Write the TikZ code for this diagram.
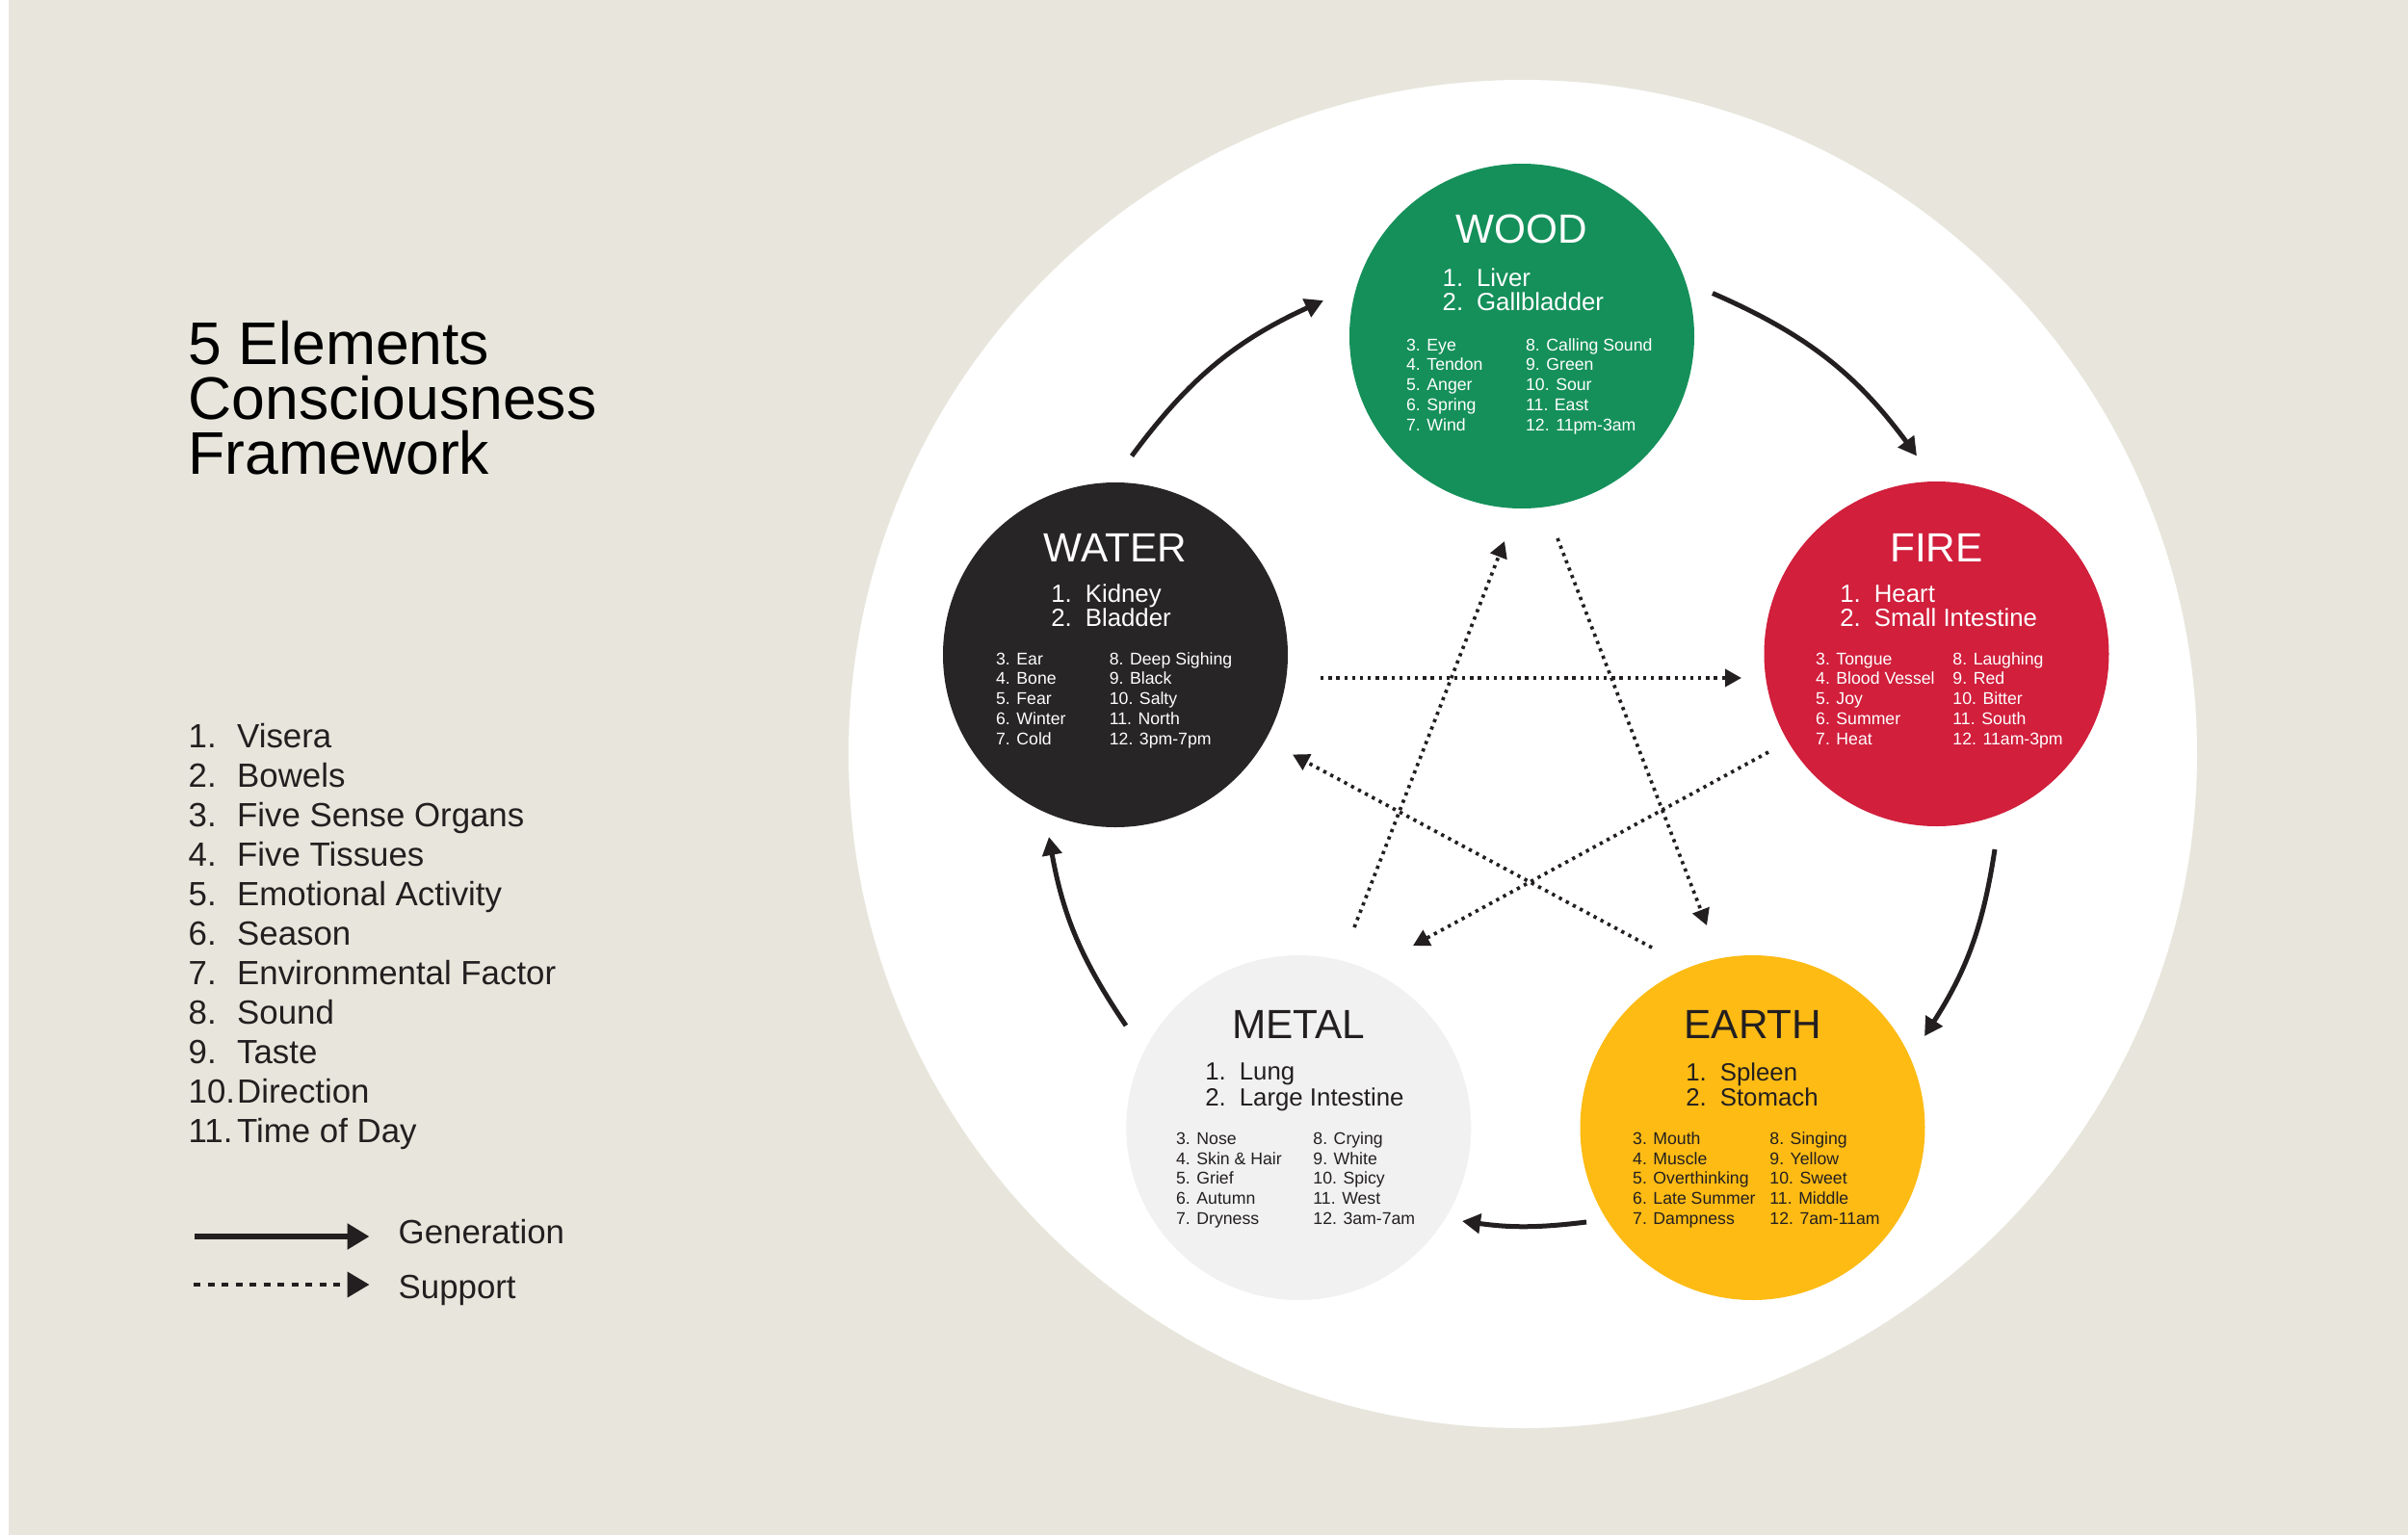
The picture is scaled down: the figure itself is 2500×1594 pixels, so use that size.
\documentclass[tikz,border=0pt]{standalone}
\usepackage{fontspec}
\setmainfont{Liberation Sans}
\usetikzlibrary{arrows.meta}
\definecolor{bg}{HTML}{E8E6DC}
\definecolor{woodc}{HTML}{15905A}
\definecolor{waterc}{HTML}{272526}
\definecolor{firec}{HTML}{D11F3C}
\definecolor{metalc}{HTML}{F1F1F1}
\definecolor{earthc}{HTML}{FDBB14}
\definecolor{ink}{HTML}{231F20}
\newcommand\orgnum[1]{\makebox[10.65pt][l]{#1}}
\begin{document}
\begin{tikzpicture}[x=0.3pt,y=-0.3pt,
 elem/.style={circle,inner sep=0,minimum size=107.4pt},
 txt/.style={inner sep=0,anchor=base west},
 ctxt/.style={inner sep=0,anchor=base},
 ttl/.style={txt,text=black,font=\fontsize{18.75pt}{17pt}\selectfont},
 leg/.style={txt,text=ink,font=\fontsize{10.45pt}{12pt}\selectfont},
 etitle/.style={ctxt,font=\fontsize{12.7pt}{13pt}\selectfont},
 organ/.style={txt,font=\fontsize{7.74pt}{8pt}\selectfont},
 small/.style={txt,font=\fontsize{5.3pt}{6pt}\selectfont},
 gen/.style={draw=ink,line width=1.5pt,-{Triangle[length=5.7pt,width=6pt]}},
 sup/.style={draw=ink,line width=1.1pt,dash pattern=on 1pt off 1.45pt,-{Triangle[length=5.1pt,width=5.4pt]}},
 lgen/.style={draw=ink,line width=1.7pt,-{Triangle[length=6.9pt,width=7.8pt]}},
 lsup/.style={draw=ink,line width=1.35pt,dash pattern=on 2.1pt off 2.25pt,-{Triangle[length=6.9pt,width=7.8pt]}},
]
\useasboundingbox (0,0) rectangle (2500,1594);
\fill[white] (0,0) rectangle (2500,1594);
\fill[bg] (9,0) rectangle (2500,1594);

% title
\node[ttl] (t1) at (195,378) {5 Elements};
\node[ttl] (t2) at (195,435) {Consciousness};
\node[ttl] (t3) at (195,492.5) {Framework};

% legend list
\foreach \t [count=\i] in {Visera,Bowels,Five Sense Organs,Five Tissues,Emotional Activity,Season,Environmental Factor,Sound,Taste,Direction,Time of Day}{
  \node[leg] (ln\i) at (195,{776+41*(\i-1)}) {\i.};
  \node[leg] (lt\i) at (245.5,{776+41*(\i-1)}) {\t};
}
\coordinate (lga) at (202,1284);
\coordinate (lgb) at (383.5,1284);
\draw[lgen] (lga) -- (lgb);
\coordinate (lsa) at (201,1334);
\coordinate (lsb) at (383.5,1334);
\draw[lsup] (lsa) -- (lsb);
\node[leg] (lgentxt) at (413,1291.5) {Generation};
\node[leg] (lsuptxt) at (413,1348) {Support};

% big circle
\node[circle,fill=white,inner sep=0,minimum size=420pt] (big) at (1581,783) {};

% element circles
\node[elem,fill=woodc] (wood) at (1580,349) {};
\node[elem,fill=waterc] (water) at (1158,680) {};
\node[elem,fill=firec] (fire) at (2010.5,679) {};
\node[elem,fill=metalc] (metal) at (1348.3,1171) {};
\node[elem,fill=earthc] (earth) at (1819.5,1171) {};

% WOOD
\begin{scope}[every node/.append style={text=white}]
\node[etitle] (woodT) at (1580,252.7) {WOOD};
\node[organ] (wood1) at (1497,297) {\orgnum{1.}Liver};
\node[organ] (wood2) at (1497,322) {\orgnum{2.}Gallbladder};
\foreach \t [count=\i] in {3. Eye,4. Tendon,5. Anger,6. Spring,7. Wind}
  \node[small] (woodL\i) at (1459.5,{364+20.8*(\i-1)}) {\t};
\foreach \t [count=\i] in {8. Calling Sound,9. Green,10. Sour,11. East,12. 11pm-3am}
  \node[small] (woodR\i) at (1583.5,{364+20.8*(\i-1)}) {\t};
\end{scope}

% WATER
\begin{scope}[every node/.append style={text=white}]
\node[etitle] (waterT) at (1158,583.3) {WATER};
\node[organ] (water1) at (1090.7,625) {\orgnum{1.}Kidney};
\node[organ] (water2) at (1090.7,650) {\orgnum{2.}Bladder};
\foreach \t [count=\i] in {3. Ear,4. Bone,5. Fear,6. Winter,7. Cold}
  \node[small] (waterL\i) at (1033.5,{690+20.8*(\i-1)}) {\t};
\foreach \t [count=\i] in {8. Deep Sighing,9. Black,10. Salty,11. North,12. 3pm-7pm}
  \node[small] (waterR\i) at (1151.2,{690+20.8*(\i-1)}) {\t};
\end{scope}

% FIRE
\begin{scope}[every node/.append style={text=white}]
\node[etitle] (fireT) at (2010.5,583.3) {FIRE};
\node[organ] (fire1) at (1909.7,625) {\orgnum{1.}Heart};
\node[organ] (fire2) at (1909.7,650) {\orgnum{2.}Small Intestine};
\foreach \t [count=\i] in {3. Tongue,4. Blood Vessel,5. Joy,6. Summer,7. Heat}
  \node[small] (fireL\i) at (1884.5,{690+20.8*(\i-1)}) {\t};
\foreach \t [count=\i] in {8. Laughing,9. Red,10. Bitter,11. South,12. 11am-3pm}
  \node[small] (fireR\i) at (2026.8,{690+20.8*(\i-1)}) {\t};
\end{scope}

% METAL
\begin{scope}[every node/.append style={text=ink}]
\node[etitle] (metalT) at (1348.3,1078.3) {METAL};
\node[organ] (metal1) at (1250.7,1121.7) {\orgnum{1.}Lung};
\node[organ] (metal2) at (1250.7,1148.3) {\orgnum{2.}Large Intestine};
\foreach \t [count=\i] in {3. Nose,4. Skin \& Hair,5. Grief,6. Autumn,7. Dryness}
  \node[small] (metalL\i) at (1220.5,{1188.3+20.8*(\i-1)}) {\t};
\foreach \t [count=\i] in {8. Crying,9. White,10. Spicy,11. West,12. 3am-7am}
  \node[small] (metalR\i) at (1362.8,{1188.3+20.8*(\i-1)}) {\t};
\end{scope}

% EARTH
\begin{scope}[every node/.append style={text=ink}]
\node[etitle] (earthT) at (1820,1078.3) {EARTH};
\node[organ] (earth1) at (1749.7,1122.7) {\orgnum{1.}Spleen};
\node[organ] (earth2) at (1749.7,1148.3) {\orgnum{2.}Stomach};
\foreach \t [count=\i] in {3. Mouth,4. Muscle,5. Overthinking,6. Late Summer,7. Dampness}
  \node[small] (earthL\i) at (1694.5,{1188.3+20.8*(\i-1)}) {\t};
\foreach \t [count=\i] in {8. Singing,9. Yellow,10. Sweet,11. Middle,12. 7am-11am}
  \node[small] (earthR\i) at (1836.8,{1188.3+20.8*(\i-1)}) {\t};
\end{scope}

% generation arcs
\coordinate (g1a) at (1175,473.5);  \coordinate (g1b) at (1374,312);
\coordinate (g2a) at (1778,304.5);  \coordinate (g2b) at (1990,473.5);
\coordinate (g3a) at (2071,882);    \coordinate (g3b) at (1998,1076);
\coordinate (g4a) at (1647,1269);   \coordinate (g4b) at (1518,1268);
\coordinate (g5a) at (1169,1065);   \coordinate (g5b) at (1089,869);
\draw[gen] (g1a) to[bend left=14.5] (g1b);
\draw[gen] (g2a) to[bend left=15] (g2b);
\draw[gen] (g3a) to[bend left=12] (g3b);
\draw[gen] (g4a) to[bend left=7.5] (g4b);
\draw[gen] (g5a) to[bend left=12] (g5b);

% support lines
\coordinate (s1a) at (1371,704);   \coordinate (s1b) at (1808,704);
\coordinate (s2a) at (1836,781);   \coordinate (s2b) at (1467,982);
\coordinate (s3a) at (1406,963);   \coordinate (s3b) at (1562,562);
\coordinate (s4a) at (1617,559);   \coordinate (s4b) at (1772,961);
\coordinate (s5a) at (1715,984);   \coordinate (s5b) at (1342,783.5);
\draw[sup] (s1a) -- (s1b);
\draw[sup] (s2a) -- (s2b);
\draw[sup] (s3a) -- (s3b);
\draw[sup] (s4a) -- (s4b);
\draw[sup] (s5a) -- (s5b);
\end{tikzpicture}
\end{document}
